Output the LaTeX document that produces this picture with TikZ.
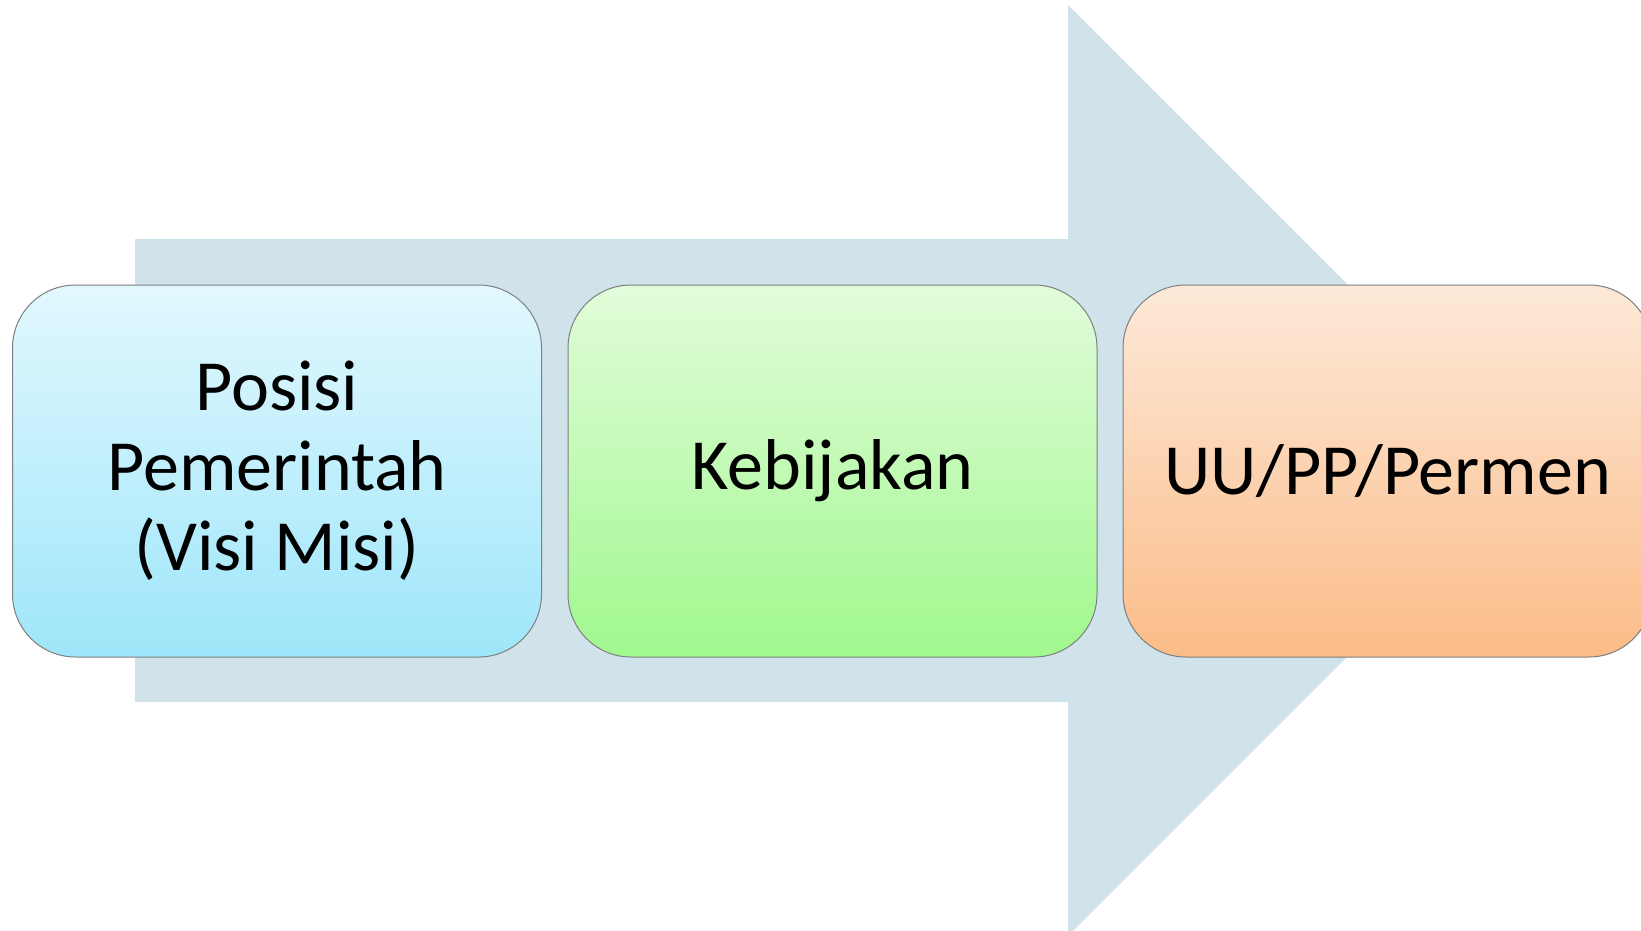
\documentclass[tikz,border=0pt]{standalone}
\usepackage{fontspec}
\setmainfont{Carlito}
\definecolor{arrowcol}{HTML}{D0E2EA}
\definecolor{edgecol}{HTML}{7F7F7F}
\tikzset{
  stagebox/.style={draw=edgecol, line width=1pt, rounded corners=63pt,
    minimum width=529pt, minimum height=372pt, inner sep=0pt, align=center,
    font=\fontsize{72}{80}\selectfont, text=black},
}
\begin{document}
\begin{tikzpicture}[x=1pt,y=-1pt]
\useasboundingbox (0,0) rectangle (1641,931);
\clip (0,0) rectangle (1641,931);
\fill[arrowcol] (135,239) -- (1068,239) -- (1068,5) -- (1533.5,470.5) -- (1068,936) -- (1068,702) -- (135,702) -- cycle;
\node[stagebox, top color={rgb,255:red,226;green,248;blue,254}, bottom color={rgb,255:red,158;green,230;blue,250}] (pos) at (277,471) {Posisi\\Pemerintah\\(Visi Misi)};
\node[stagebox, top color={rgb,255:red,226;green,252;blue,218}, bottom color={rgb,255:red,160;green,248;blue,142}] (keb) at (832.5,471) {Kebijakan};
\node[stagebox, top color={rgb,255:red,253;green,233;blue,217}, bottom color={rgb,255:red,251;green,188;blue,136}] (uu) at (1387.5,471) {UU/PP/Permen};
\end{tikzpicture}
\end{document}
